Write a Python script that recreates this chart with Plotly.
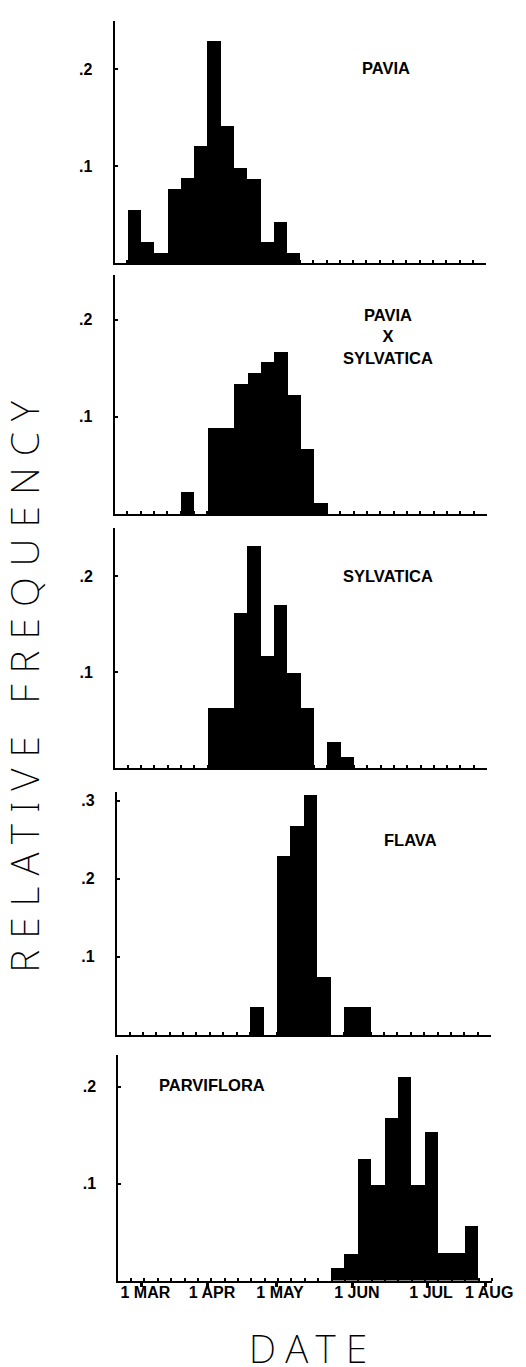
import plotly.graph_objects as go

W, H = 526, 1367

# ---- data (bin index = one small tick interval on the date axis) ----
bins = list(range(27))
pavia = [0.055, 0.022, 0.011, 0.077, 0.088, 0.121, 0.229, 0.142, 0.098, 0.087,
         0.022, 0.043, 0.011] + [0] * 14
pavia_x_sylvatica = [0, 0, 0, 0, 0.023, 0, 0.089, 0.089, 0.134, 0.145, 0.156,
                     0.167, 0.122, 0.067, 0.011] + [0] * 12
sylvatica = [0] * 6 + [0.063, 0.063, 0.161, 0.231, 0.117, 0.170, 0.099, 0.063,
                       0, 0.027, 0.011] + [0] * 10
flava = [0] * 9 + [0.036, 0, 0.229, 0.2675, 0.307, 0.074, 0, 0.036, 0.036] + [0] * 9
parviflora = [0] * 15 + [0.0134, 0.0276, 0.126, 0.099, 0.168, 0.210, 0.099,
                         0.154, 0.029, 0.029, 0.0566] + [0]

month_labels = ["1 MAR", "1 APR", "1 MAY", "1 JUN", "1 JUL", "1 AUG"]
month_pos = [0.77, 5.75, 10.85, 16.6, 22.15, 26.5]

species = ["PAVIA", "PAVIA<br>X<br>SYLVATICA", "SYLVATICA", "FLAVA", "PARVIFLORA"]
series = [pavia, pavia_x_sylvatica, sylvatica, flava, parviflora]
ytick_vals = [[0.1, 0.2], [0.1, 0.2], [0.1, 0.2], [0.1, 0.2, 0.3], [0.1, 0.2]]
ytick_text = [[".1", ".2"], [".1", ".2"], [".1", ".2"], [".1", ".2", ".3"], [".1", ".2"]]
ymax = [0.25, 0.246, 0.25, 0.311, 0.233]

# ---- layout geometry (pixels) ----
xpx = [(111, 498), (111, 499), (111.5, 499), (113.3, 503.3), (115, 504)]
ypx = [(12.5, 255), (267, 506), (520, 760), (784, 1027), (1046.7, 1272.5)]
label_pos = [(394, 60), (396, 328), (396, 568), (419, 832), (213, 1077)]

BOLD = dict(family="Liberation Sans, Arial, sans-serif", color="black", weight="bold")

fig = go.Figure()
layout = dict(width=W, height=H, margin=dict(l=0, r=0, t=0, b=0),
              paper_bgcolor="white", plot_bgcolor="white", showlegend=False,
              bargap=0, annotations=[])

for i in range(5):
    n = "" if i == 0 else str(i + 1)
    fig.add_trace(go.Bar(x=[b + 0.5 for b in bins], y=series[i], width=1,
                         marker=dict(color="black", line=dict(width=0)),
                         xaxis="x" + n, yaxis="y" + n, hoverinfo="skip"))
    x0, x1 = xpx[i]
    y0, y1 = ypx[i]
    xa = dict(domain=[x0 / W, x1 / W], range=[-0.95, 27], anchor="y" + n,
              showline=True, linecolor="black", linewidth=2, showgrid=False,
              zeroline=False, fixedrange=True)
    if i < 4:
        xa.update(tickmode="linear", tick0=0, dtick=1, ticks="inside", ticklen=3,
                  tickwidth=1.5, tickcolor="black", showticklabels=False)
    else:
        xa.update(tickmode="array", tickvals=month_pos, ticktext=month_labels,
                  ticks="outside", ticklen=4, tickwidth=2.5, tickcolor="black",
                  tickfont=dict(size=16, **BOLD), ticklabelshift=4,
                  ticklabelstandoff=-8,
                  minor=dict(tickmode="linear", tick0=0, dtick=1, ticks="inside",
                             ticklen=3, tickwidth=1.5, tickcolor="black", showgrid=False))
    ya = dict(domain=[1 - y1 / H, 1 - y0 / H], range=[0, ymax[i]], anchor="x" + n,
              showline=True, linecolor="black", linewidth=2, showgrid=False,
              zeroline=False, tickmode="array", tickvals=ytick_vals[i],
              ticktext=ytick_text[i], ticks="inside", ticklen=3, tickwidth=2,
              tickcolor="black", tickfont=dict(size=16, **BOLD),
              ticklabelstandoff=17, fixedrange=True)
    layout["xaxis" + n] = xa
    layout["yaxis" + n] = ya
    lx, ly = label_pos[i]
    layout["annotations"].append(dict(
        text=species[i], x=lx / W, y=1 - ly / H, xref="paper", yref="paper",
        showarrow=False, xanchor="center", yanchor="middle", align="center",
        font=dict(size=16.5, **BOLD)))

TITLE_FONT = dict(family="DejaVu Sans ExtraLight, Noto Sans, DejaVu Sans, sans-serif",
                  size=39, color="black", weight=200)
layout["annotations"].append(dict(
    text='<span style="letter-spacing:11px">RELATIVE FREQUENCY</span>',
    x=16 / W, y=1 - 673 / H, xref="paper", yref="paper", showarrow=False,
    textangle=-90, xanchor="center", yanchor="middle", font=TITLE_FONT,
    width=600, height=46, align="center", valign="middle"))
layout["annotations"].append(dict(
    text='<span style="letter-spacing:10px">DATE</span>',
    x=318 / W, y=1 - 1339 / H, xref="paper", yref="paper", showarrow=False,
    xanchor="center", yanchor="middle", font=TITLE_FONT,
    width=150, height=44, align="center", valign="middle"))

fig.update_layout(**layout)
fig.write_html("out.html")
